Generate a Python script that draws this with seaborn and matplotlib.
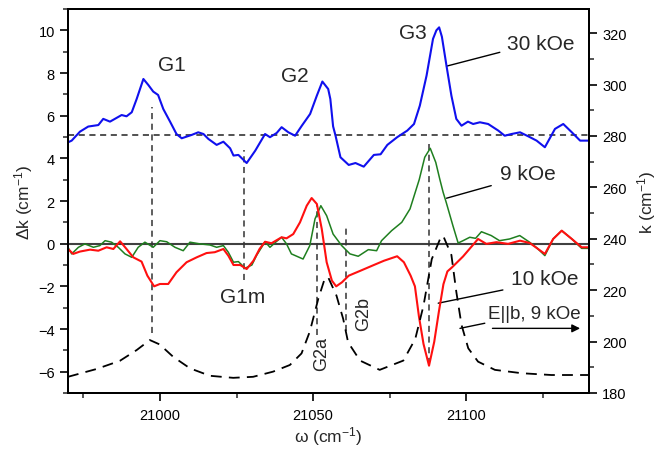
import numpy as np
import pandas as pd
import matplotlib
matplotlib.use("Agg")
import matplotlib.pyplot as plt
from matplotlib.ticker import MultipleLocator
import seaborn as sns

# ---------------- data ----------------
# 30 kOe (blue), delta k in cm^-1 (offset curve)
x30 = [20970, 20971.2, 20973.9, 20976.6, 20979.9, 20981.5, 20983.7, 20987.5, 20989.1, 20990.8,
       20992.4, 20994.6, 20996.2, 20997.8, 20999.4, 21001.1, 21003.3, 21005.4, 21007.1, 21010.4,
       21012.5, 21014.2, 21015.8, 21018.5, 21020.7, 21022.9, 21024.0, 21025.6, 21028.3, 21031.1,
       21034.3, 21035.9, 21038.1, 21039.7, 21041.9, 21044.1, 21046.3, 21049.0, 21051.2, 21053.0,
       21054.9, 21055.6, 21056.5, 21057.3, 21058.9, 21061.6, 21063.8, 21066.5, 21069.8, 21072.0,
       21074.2, 21077.4, 21080.7, 21082.9, 21084.8, 21087.0, 21089.1, 21090.2, 21091.1, 21092.0,
       21093.5, 21095.1, 21096.7, 21098.4, 21100.5, 21102.2, 21104.4, 21107.1, 21110.4, 21112.5,
       21114.7, 21117.5, 21120.2, 21122.9, 21125.6, 21128.9, 21131.6, 21134.4, 21137.1, 21140.0]
y30 = [4.75, 4.83, 5.25, 5.49, 5.56, 5.85, 5.72, 6.03, 5.97, 6.16,
       6.78, 7.72, 7.44, 7.13, 6.97, 6.31, 5.72, 5.14, 4.94, 5.10,
       5.22, 5.14, 4.91, 4.63, 4.78, 4.47, 4.13, 4.16, 3.78, 4.36,
       5.14, 4.99, 5.19, 5.46, 5.22, 5.06, 5.53, 6.08, 6.94, 7.60,
       7.25, 6.78, 5.50, 5.06, 4.05, 3.69, 3.78, 3.61, 4.16, 4.19,
       4.63, 4.99, 5.30, 5.61, 6.47, 7.88, 9.60, 10.00, 10.14, 9.70,
       8.34, 6.94, 5.85, 5.53, 5.72, 5.61, 5.69, 5.61, 5.30, 5.06,
       5.14, 5.22, 5.03, 4.83, 4.52, 5.38, 5.61, 5.22, 4.83, 4.83]

# 9 kOe (green)
x9 = [20970, 20971.2, 20973.4, 20975.5, 20978.3, 20980.4, 20982.1, 20984.2, 20986.4, 20988.6,
      20990.8, 20992.9, 20995.1, 20997.8, 21000.0, 21002.2, 21004.9, 21007.6, 21009.8, 21013.0,
      21016.3, 21018.5, 21020.7, 21022.3, 21024.0, 21025.6, 21027.8, 21030.0, 21031.5, 21034.3,
      21035.9, 21038.0, 21039.7, 21041.3, 21042.9, 21046.7, 21048.9, 21050.6, 21052.5, 21054.4,
      21056.5, 21059.3, 21062.0, 21064.7, 21068.0, 21070.7, 21072.3, 21075.6, 21078.9, 21081.6,
      21084.6, 21086.4, 21088.2, 21090.0, 21091.3, 21092.4, 21093.4, 21095.6, 21097.3, 21098.9,
      21101.1, 21103.0, 21104.9, 21108.1, 21110.8, 21114.1, 21117.4, 21120.6, 21123.0, 21125.6,
      21128.3, 21131.1, 21134.4, 21137.6, 21140.0]
y9 = [-0.17, -0.48, -0.17, -0.01, -0.17, -0.09, 0.14, 0.07, -0.17, -0.48,
      -0.64, -0.17, 0.07, -0.17, 0.14, 0.09, -0.17, -0.33, 0.07, -0.01,
      -0.06, -0.17, -0.09, -0.40, -0.87, -0.84, -1.15, -1.00, -0.56, 0.09,
      -0.17, 0.10, 0.30, -0.01, -0.48, -0.72, -0.09, 1.16, 1.78, 1.31,
      0.45, -0.09, -0.48, -0.59, -0.28, -0.33, 0.14, 0.61, 1.00, 1.63,
      3.00, 4.05, 4.47, 3.81, 3.03, 2.41, 1.94, 0.84, 0.03, 0.14,
      0.30, 0.25, 0.56, 0.38, 0.14, 0.22, 0.38, 0.07, -0.20, -0.56,
      0.22, 0.61, 0.22, -0.22, -0.22]

# 10 kOe (red)
x10 = [20970, 20971.7, 20973.9, 20977.2, 20979.9, 20982.6, 20984.8, 20987.0, 20989.1, 20991.3,
       20994.0, 20995.9, 20998.1, 21000.0, 21002.7, 21005.4, 21008.7, 21012.0, 21015.2, 21017.9,
       21020.7, 21022.3, 21024.0, 21026.2, 21028.3, 21030.5, 21032.5, 21034.3, 21036.4, 21039.7,
       21041.3, 21043.5, 21045.7, 21047.9, 21049.5, 21051.2, 21052.8, 21054.4, 21056.1, 21057.5,
       21059.4, 21061.6, 21065.4, 21069.8, 21073.1, 21077.4, 21079.6, 21081.8, 21083.2, 21084.5,
       21086.0, 21087.8, 21089.5, 21091.0, 21092.5, 21093.8, 21095.3, 21098.9, 21103.8, 21106.5,
       21109.8, 21113.6, 21117.5, 21120.7, 21125.6, 21128.3, 21131.1, 21134.4, 21137.6, 21140.0]
y10 = [-0.25, -0.48, -0.37, -0.28, -0.33, -0.17, -0.25, 0.11, -0.25, -0.64,
       -0.84, -1.50, -2.00, -1.89, -1.89, -1.34, -0.87, -0.64, -0.44, -0.40,
       -0.25, -0.56, -1.00, -1.00, -1.19, -0.80, -0.25, 0.09, 0.02, 0.30,
       0.25, 0.45, 1.00, 1.78, 2.14, 1.86, 0.69, -0.87, -1.73, -2.00,
       -1.81, -1.50, -1.27, -1.00, -0.80, -0.59, -0.87, -1.50, -2.00, -3.40,
       -4.70, -5.72, -4.60, -3.20, -1.90, -1.30, -1.11, -0.60, 0.22, -0.01,
       0.07, -0.01, 0.14, 0.03, -0.48, 0.22, 0.61, 0.22, -0.17, -0.17]

# E||b, 9 kOe (black dashed), k in cm^-1 (right axis)
xe = [20970, 20979.2, 20986.9, 20992.4, 20996.7, 20999.9, 21004.3, 21009.8, 21016.3, 21023.9,
      21030.4, 21036.9, 21042.4, 21046.2, 21048.9, 21051.7, 21053.8, 21054.9, 21057.6, 21059.8,
      21061.4, 21065.3, 21071.7, 21079.4, 21083.3, 21086.0, 21088.7, 21091.4, 21092.4, 21095.1,
      21096.7, 21098.4, 21100.6, 21103.8, 21109.3, 21118.0, 21127.7, 21139.7]
ke = [186.3, 189.3, 192.5, 196.7, 200.6, 198.9, 194.1, 189.6, 186.7, 185.9,
      186.3, 188.3, 190.9, 195.4, 203.9, 216.8, 224.6, 225.0, 217.9, 208.8,
      199.7, 192.6, 189.0, 192.6, 201.0, 214.0, 232.1, 239.9, 241.2, 233.7,
      219.4, 206.5, 197.4, 192.2, 189.0, 187.7, 187.0, 187.0]

# guide lines
baseline_30 = 5.1
vline_x = [20997.5, 21027.5, 21051.2, 21060.7, 21087.8]
vline_top = [6.4, 4.4, 1.8, 0.85, 4.75]
vline_bot = [-4.2, -1.7, -4.3, -4.1, -5.65]

peak_labels = ["G1", "G2", "G3", "G1m"]
peak_lx = [21003.8, 21044.0, 21082.4, 21027.0]
peak_ly = [8.42, 7.88, 9.91, -2.48]
rot_labels = ["G2a", "G2b"]
rot_lx = [21052.8, 21066.3]
rot_ly = [-5.14, -3.26]

# ---------------- style ----------------
sns.set_style("ticks")
plt.rcParams['font.family'] = ['Liberation Sans', 'DejaVu Sans']
plt.rcParams['mathtext.default'] = 'regular'

fig = plt.figure(figsize=(6.70, 4.52), dpi=100)
ax = fig.add_axes([68/670, 58/452, (589-68)/670, (394-10)/452])
ax2 = ax.twinx()

blue = '#1010ee'
red = '#ff1010'
green = '#1f7f1f'

ax.axhline(0, color='#404040', lw=1.5, zorder=1)
ax.axhline(baseline_30, color='#222222', lw=1.1, ls=(0, (4, 3)), zorder=1)
ax.vlines(vline_x, vline_bot, vline_top, colors='#333333', lw=1.1, linestyles=(0, (4, 3)), zorder=1)

d30 = pd.DataFrame({'w': x30, 'dk': y30})
d9 = pd.DataFrame({'w': x9, 'dk': y9})
d10 = pd.DataFrame({'w': x10, 'dk': y10})
de = pd.DataFrame({'w': xe, 'k': ke})

sns.lineplot(data=d9, x='w', y='dk', ax=ax, color=green, lw=1.1, sort=False, estimator=None, zorder=3)
sns.lineplot(data=d10, x='w', y='dk', ax=ax, color=red, lw=1.5, sort=False, estimator=None, zorder=4)
sns.lineplot(data=d30, x='w', y='dk', ax=ax, color=blue, lw=1.5, sort=False, estimator=None, zorder=4)
sns.lineplot(data=de, x='w', y='k', ax=ax2, color='black', lw=1.3, sort=False, estimator=None,
             linestyle=(0, (6, 4)), zorder=2)

ax.set_xlim(20970, 21140)
ax.set_ylim(-7, 11)
ax2.set_ylim(180, 329.4)

ax.xaxis.set_major_locator(MultipleLocator(50))
ax.xaxis.set_minor_locator(MultipleLocator(25))
ax.yaxis.set_major_locator(MultipleLocator(2))
ax.yaxis.set_minor_locator(MultipleLocator(1))
ax2.yaxis.set_major_locator(MultipleLocator(20))
ax2.yaxis.set_minor_locator(MultipleLocator(10))
ax.set_yticks([-6, -4, -2, 0, 2, 4, 6, 8, 10])
ax2.set_yticks([180, 200, 220, 240, 260, 280, 300, 320])

for a in (ax, ax2):
    a.tick_params(which='major', direction='out', length=6, width=1.2, labelsize=10.5, colors='black')
    a.tick_params(which='minor', direction='out', length=3.5, width=1.1)
    for s in a.spines.values():
        s.set_linewidth(1.4)
        s.set_color('black')
ax.tick_params(axis='x', which='both', top=False)
ax.tick_params(axis='x', which='major', pad=5)

ax.set_xlabel(r'ω (cm$^{-1}$)', fontsize=12.5, labelpad=1)
ax.set_ylabel(r'Δk (cm$^{-1}$)', fontsize=12.5, labelpad=2)
ax2.set_ylabel(r'k (cm$^{-1}$)', fontsize=12.5, labelpad=6)

# labels
for t, lx, ly in zip(peak_labels, peak_lx, peak_ly):
    ax.text(lx, ly, t, fontsize=15, ha='center', va='center')
for t, lx, ly in zip(rot_labels, rot_lx, rot_ly):
    ax.text(lx, ly, t, fontsize=13, ha='center', va='center', rotation=90)

ax.text(21124.4, 9.36, '30 kOe', fontsize=15, ha='center', va='center')
ax.text(21120.0, 3.31, '9 kOe', fontsize=15, ha='center', va='center')
ax.text(21125.6, -1.62, '10 kOe', fontsize=15, ha='center', va='center')
ax.text(21122.0, -3.26, 'E||b, 9 kOe', fontsize=13.5, ha='center', va='center')

# leader lines
ax.plot([21093.5, 21110.9], [8.32, 8.97], color='black', lw=1.0)
ax.plot([21093.5, 21108.1], [2.13, 2.72], color='black', lw=1.0)
ax.plot([21090.8, 21111.9], [-2.79, -2.17], color='black', lw=1.0)
ax.plot([21097.9, 21106.0], [-3.97, -3.73], color='black', lw=1.0)
ax.annotate('', xy=(21138.0, -3.97), xytext=(21107.6, -3.97),
            arrowprops=dict(arrowstyle='-|>', color='black', lw=1.0, mutation_scale=12))

fig.savefig('out.png', dpi=100)
